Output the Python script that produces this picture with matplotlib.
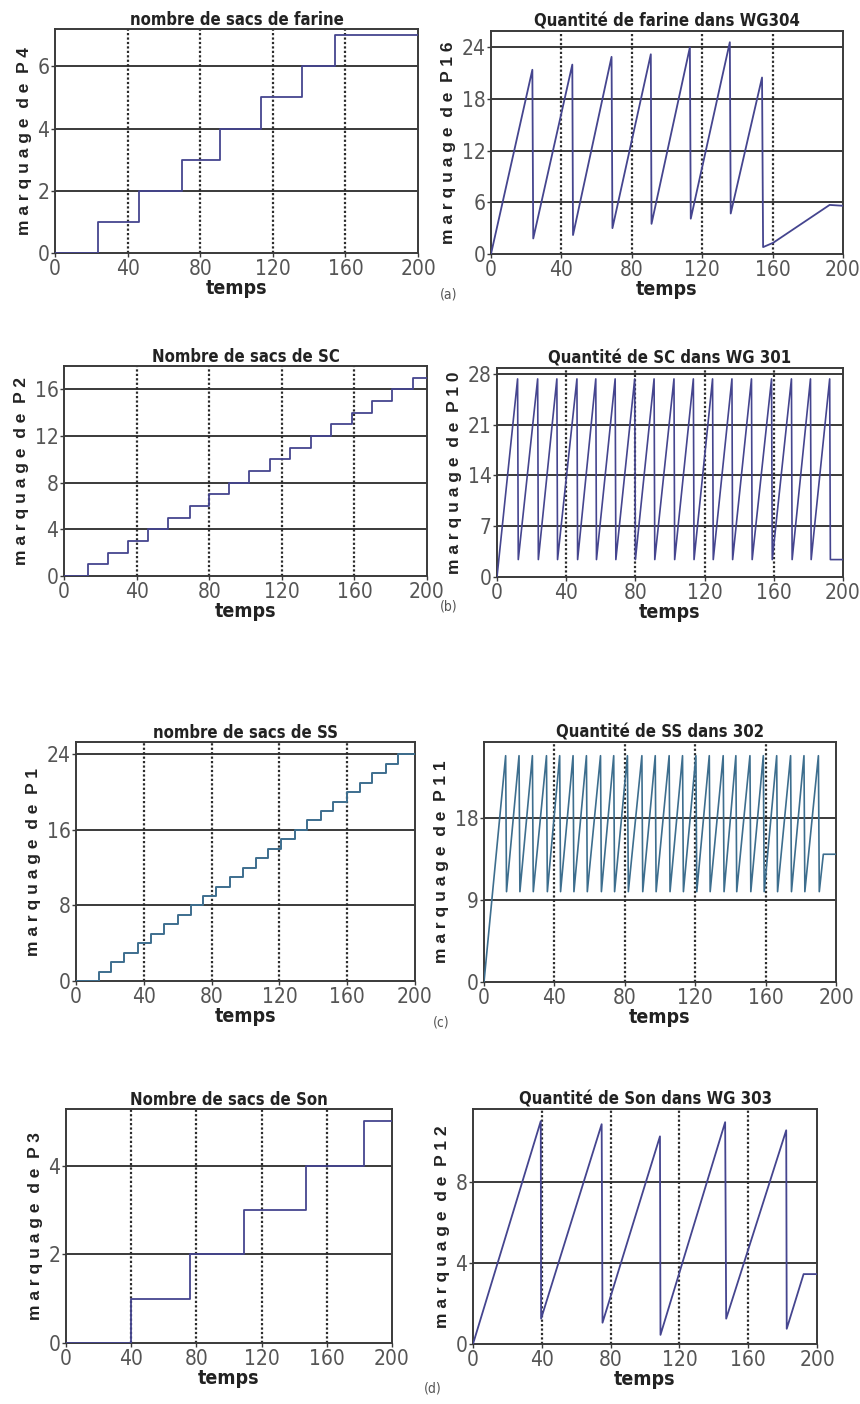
import matplotlib
matplotlib.use("Agg")
import matplotlib.pyplot as plt
from matplotlib import font_manager

# ---- data ----
# (a) sacs de farine (P4) : step times and counts
a_left_t = [0, 23.9, 46.4, 69.7, 90.8, 113.4, 136.3, 154.1, 200]
a_left_v = [0, 1, 2, 3, 4, 5, 6, 7, 7]
# (a) farine dans WG304 (P16)
a_right_t = [0, 23.5, 24.0, 46.2, 46.6, 68.5, 69.0, 90.8, 91.2, 113.0, 113.5,
             135.7, 136.2, 154.0, 154.6, 160.3, 192.4, 200]
a_right_v = [0, 21.4, 1.8, 22.0, 2.2, 22.9, 3.0, 23.2, 3.5, 24.0, 4.1,
             24.6, 4.7, 20.5, 0.8, 1.3, 5.7, 5.6]

# (b) sacs de SC (P2)
b_left_t = [0, 13.2, 24.3, 35.3, 46.4, 57.4, 69.4, 80.0, 91.1, 102.1, 113.5,
            124.6, 136.0, 147.2, 158.6, 169.6, 180.7, 192.1, 200]
b_left_v = [0, 1, 2, 3, 4, 5, 6, 7, 8, 9, 10, 11, 12, 13, 14, 15, 16, 17, 17]
# (b) SC dans WG301 (P10)
b_right_t = [0, 11.9, 12.3, 23.5, 23.9, 34.6, 35.0, 46.2, 46.6, 57.1, 57.5,
             68.3, 68.7, 79.6, 80.0, 90.8, 91.2, 102.3, 102.7, 113.5, 113.9,
             124.6, 125.0, 135.8, 136.2, 147.1, 147.5, 158.7, 159.1, 170.2, 170.6,
             181.2, 181.6, 192.3, 192.7, 200]
b_right_v = [0, 27.3, 2.4, 27.3, 2.4, 27.3, 2.4, 27.3, 2.4, 27.3, 2.4,
             27.3, 2.4, 27.3, 2.4, 27.3, 2.4, 27.3, 2.4, 27.3, 2.4,
             27.3, 2.4, 27.3, 2.4, 27.3, 2.4, 27.3, 2.4, 27.3, 2.4,
             27.3, 2.4, 27.3, 2.4, 2.4]

# (c) sacs de SS (P1)
c_left_t = [0, 13.8, 20.6, 28.5, 36.4, 44.2, 52.1, 60.0, 67.8, 75.1, 82.6, 90.9,
            98.3, 106.2, 113.5, 120.9, 129.2, 136.5, 144.3, 151.8, 159.7, 167.5,
            174.8, 182.9, 190.2, 200]
c_left_v = [0, 1, 2, 3, 4, 5, 6, 7, 8, 9, 10, 11, 12, 13, 14, 15, 16, 17, 18,
            19, 20, 21, 22, 23, 24, 24]
# (c) SS dans 302 (P11)
c_right_t = [0, 12.3, 12.8, 19.9, 20.4, 27.5, 28.0, 35.5, 36.0, 43.0, 43.5,
             50.6, 51.1, 58.2, 58.7, 66.2, 66.7, 73.7, 74.2, 81.5, 82.0, 89.7, 90.2,
             97.3, 97.8, 105.2, 105.7, 112.8, 113.3, 120.4, 120.9, 128.0, 128.5,
             135.9, 136.4, 143.1, 143.6, 151.1, 151.6, 158.7, 159.2, 166.3, 166.8,
             174.2, 174.7, 181.8, 182.3, 190.0, 190.5, 192.8, 200]
c_right_v = [0, 24.8, 9.9, 24.8, 9.9, 24.8, 9.9, 24.8, 9.9, 24.8, 9.9,
             24.8, 9.9, 24.8, 9.9, 24.8, 9.9, 24.8, 9.9, 24.8, 9.9, 24.8, 9.9,
             24.8, 9.9, 24.8, 9.9, 24.8, 9.9, 24.8, 9.9, 24.8, 9.9,
             24.8, 9.9, 24.8, 9.9, 24.8, 9.9, 24.8, 9.9, 24.8, 9.9,
             24.8, 9.9, 24.8, 9.9, 24.8, 9.9, 14.0, 14.0]

# (d) sacs de Son (P3)
d_left_t = [0, 40.1, 75.9, 109.5, 147.4, 182.6, 200]
d_left_v = [0, 1, 2, 3, 4, 5, 5]
# (d) Son dans WG303 (P12)
d_right_t = [0, 39.4, 39.6, 74.8, 75.3, 108.7, 109.0, 146.6, 147.2, 182.1, 182.4, 192.2, 200]
d_right_v = [0, 11.0, 1.25, 10.85, 1.05, 10.25, 0.45, 10.95, 1.25, 10.55, 0.75, 3.45, 3.45]

x_ticks = [0, 40, 80, 120, 160, 200]

NAVY = "#45458f"
TEAL = "#3d6e8e"
GRID = "#2b2b2b"

# pick a narrow font if one is installed
fonts = font_manager.fontManager.ttflist
names = {f.name for f in fonts}
NARROW_STRETCH = "normal"
if "Liberation Sans Narrow" in names:
    NARROW = ["Liberation Sans Narrow", "DejaVu Sans"]
elif any(f.name == "DejaVu Sans" and f.stretch == "condensed" for f in fonts):
    NARROW = ["DejaVu Sans"]
    NARROW_STRETCH = "condensed"
else:
    NARROW = ["Liberation Sans", "DejaVu Sans"]
narrow = dict(family=NARROW, stretch=NARROW_STRETCH)

W, H = 860, 1404
fig = plt.figure(figsize=(W / 100, H / 100), dpi=100)


def make_ax(box, title, ylab, yticks, ytop):
    l, r, t, b = box
    ax = fig.add_axes([l / W, 1 - b / H, (r - l) / W, (b - t) / H])
    ax.set_xlim(0, 200)
    ax.set_ylim(0, ytop)
    ax.set_xticks(x_ticks)
    ax.set_yticks(yticks)
    for y in yticks[1:]:
        ax.axhline(y, color=GRID, lw=1.3, zorder=1)
    for x in x_ticks[1:-1]:
        ax.axvline(x, color=GRID, lw=1.6, ls=(0, (1, 1)), zorder=1)
    for s in ax.spines.values():
        s.set_color("#3a3a3a")
        s.set_linewidth(1.4)
    ax.tick_params(direction="out", length=3, width=1, colors="#3a3a3a",
                   labelsize=15, labelcolor="#555555", pad=1)
    for lab in ax.get_xticklabels() + ax.get_yticklabels():
        lab.set_family(NARROW)
        lab.set_stretch(NARROW_STRETCH)
    ax.set_title(title, fontweight="bold", fontsize=12, pad=3,
                 color="#222222", **narrow)
    ax.set_xlabel("temps", fontweight="bold", fontsize=14,
                  labelpad=0, color="#222222", **narrow)
    ax.set_ylabel(ylab, fontweight="bold", fontsize=12.5, labelpad=4,
                  family=["Liberation Sans", "DejaVu Sans"], color="#222222")
    return ax


ax = make_ax((55, 418, 29, 253), "nombre de sacs de farine",
             "m a r q u a g e  d e  P 4", [0, 2, 4, 6], 7.2)
ax.step(a_left_t, a_left_v, where="post", color=NAVY, lw=1.3, zorder=3)

ax = make_ax((491, 843, 31, 254), "Quantité de farine dans WG304",
             "m a r q u a g e  d e  P 1 6", [0, 6, 12, 18, 24], 25.9)
ax.plot(a_right_t, a_right_v, color=NAVY, lw=1.3, zorder=3)

ax = make_ax((64, 427, 366, 576), "Nombre de sacs de SC",
             "m a r q u a g e  d e  P 2", [0, 4, 8, 12, 16], 18)
ax.step(b_left_t, b_left_v, where="post", color=NAVY, lw=1.3, zorder=3)

ax = make_ax((497, 843, 368, 577), "Quantité de SC dans WG 301",
             "m a r q u a g e  d e  P 1 0", [0, 7, 14, 21, 28], 28.8)
ax.plot(b_right_t, b_right_v, color=NAVY, lw=1.2, zorder=3)

ax = make_ax((76, 415, 742, 981), "nombre de sacs de SS",
             "m a r q u a g e  d e  P 1", [0, 8, 16, 24], 25.3)
ax.step(c_left_t, c_left_v, where="post", color=TEAL, lw=1.4, zorder=3)

ax = make_ax((484, 836, 742, 982), "Quantité de SS dans 302",
             "m a r q u a g e  d e  P 1 1", [0, 9, 18], 26.3)
ax.plot(c_right_t, c_right_v, color=TEAL, lw=1.2, zorder=3)

ax = make_ax((66, 392, 1109, 1343), "Nombre de sacs de Son",
             "m a r q u a g e  d e  P 3", [0, 2, 4], 5.28)
ax.step(d_left_t, d_left_v, where="post", color=NAVY, lw=1.3, zorder=3)

ax = make_ax((473, 817, 1109, 1344), "Quantité de Son dans WG 303",
             "m a r q u a g e  d e  P 1 2", [0, 4, 8], 11.6)
ax.plot(d_right_t, d_right_v, color=NAVY, lw=1.3, zorder=3)

# panel letters
for lab, px, py in [("(a)", 449, 294), ("(b)", 449, 606), ("(c)", 441, 1023), ("(d)", 433, 1389)]:
    fig.text(px / W, 1 - py / H, lab, fontsize=10, color="#555555",
             ha="center", va="center", **narrow)

fig.savefig("out.png", dpi=100, facecolor="white")
